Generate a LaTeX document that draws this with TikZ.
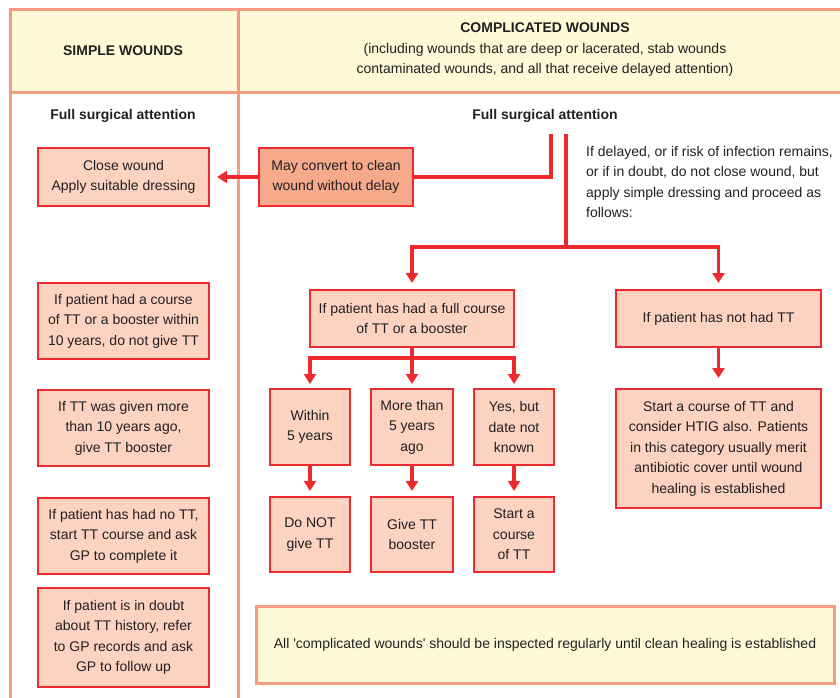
\documentclass[tikz,border=0pt]{standalone}
\usepackage{fontspec}
\setmainfont{Liberation Sans}
\usepackage{tikz}
\usetikzlibrary{arrows.meta}

\definecolor{framesalmon}{HTML}{F59B7F}
\definecolor{headfill}{HTML}{FEF9D6}
\definecolor{boxred}{HTML}{EE2A2E}
\definecolor{boxfill}{HTML}{FBD3C0}
\definecolor{convfill}{HTML}{F6A98B}
\definecolor{ink}{HTML}{231F20}

\tikzset{
  frame/.style={draw=framesalmon, line width=3pt},
  box/.style={draw=boxred, fill=boxfill, line width=2pt, align=center, inner sep=0pt, text=ink},
  conn/.style={draw=boxred, line width=3.7pt},
  arr/.style={conn, -{Triangle[width=12pt,length=10pt]}},
  label/.style={text=ink, align=center, inner sep=0pt},
}

\begin{document}
\begin{tikzpicture}[x=1pt, y=-1pt, font=\fontsize{14}{20.5}\selectfont]
\useasboundingbox (0,0) rectangle (840,698);
\draw[frame, fill=headfill] (10,10) rectangle (843,93);
\draw[frame] (10,10) -- (10,702);
\draw[frame] (238,10) -- (238,702);

\node[label, font=\fontsize{14}{20.5}\selectfont\bfseries] (simplehead) at (123,51) {SIMPLE WOUNDS};
\node[label] (complhead) at (545,50) {\textbf{COMPLICATED WOUNDS}\\(including wounds that are deep or lacerated, stab wounds\\contaminated wounds, and all that receive delayed attention)};
\node[label, font=\fontsize{14}{20.5}\selectfont\bfseries] (simplefsa) at (123,116) {Full surgical attention};
\node[label, font=\fontsize{14}{20.5}\selectfont\bfseries] (complfsa) at (545,116) {Full surgical attention};
\node[label, align=left, anchor=west] (delayed) at (586,182) {If delayed, or if risk of infection remains,\\or if in doubt, do not close wound, but\\apply simple dressing and proceed as\\follows:};

\node[box, minimum width=171, minimum height=58] (close) at (123.5,177) {Close wound\\Apply suitable dressing};
\node[box, fill=convfill, minimum width=154, minimum height=58] (convert) at (336,177) {May convert to clean\\wound without delay};

\node[box, minimum width=171, minimum height=76] (lcourse) at (123.5,321) {If patient had a course\\of TT or a booster within\\10 years, do not give TT};
\node[box, minimum width=171, minimum height=76] (lbooster) at (123.5,428) {If TT was given more\\than 10 years ago,\\give TT booster};
\node[box, minimum width=171, minimum height=76] (lnott) at (123.5,536) {If patient has had no TT,\\start TT course and ask\\GP to complete it};
\node[box, minimum width=171, minimum height=99] (ldoubt) at (123.5,637.5) {If patient is in doubt\\about TT history, refer\\to GP records and ask\\GP to follow up};

\node[box, minimum width=204, minimum height=57] (full) at (412,318.5) {If patient has had a full course\\of TT or a booster};
\node[box, minimum width=205, minimum height=57] (nothad) at (718.5,318.5) {If patient has not had TT};
\node[box, minimum width=80, minimum height=76] (within) at (310,427) {Within\\5 years};
\node[box, minimum width=82, minimum height=76] (more) at (412,427) {More than\\5 years\\ago};
\node[box, minimum width=80, minimum height=76] (yes) at (514,427) {Yes, but\\date not\\known};
\node[box, minimum width=80, minimum height=75] (donot) at (310,534.5) {Do NOT\\give TT};
\node[box, minimum width=82, minimum height=75] (give) at (412,534.5) {Give TT\\booster};
\node[box, minimum width=80, minimum height=75] (start) at (514,534.5) {Start a\\course\\of TT};
\node[box, minimum width=205, minimum height=119] (htig) at (718.5,448.5) {Start a course of TT and\\consider HTIG also. Patients\\in this category usually merit\\antibiotic cover until wound\\healing is established};
\node[box, draw=framesalmon, fill=headfill, line width=3pt, minimum width=578, minimum height=77] (note) at (545,644.5) {All \textquotesingle complicated wounds\textquotesingle{} should be inspected regularly until clean healing is established};

\coordinate (fsaconv) at (551,134);
\coordinate (fsatree) at (566,134);
\coordinate (split) at (566,247);
\coordinate (subsplit) at (412,358);
\draw[conn] (fsaconv) |- (convert.east);
\draw[arr, shorten >=7pt] (convert.west) -- (close.east);
\draw[conn] (fsatree) -- (split);
\draw[arr, shorten >=6pt] (split) -| (full.north);
\draw[arr, shorten >=6pt] (split) -| (nothad.north);
\draw[conn] (full.south) -- (subsplit);
\draw[arr, shorten >=4pt] (subsplit) -| (within.north);
\draw[arr, shorten >=4pt] (subsplit) -- (more.north);
\draw[arr, shorten >=4pt] (subsplit) -| (yes.north);
\draw[arr, shorten >=5pt] (within) -- (donot);
\draw[arr, shorten >=5pt] (more) -- (give);
\draw[arr, shorten >=5pt] (yes) -- (start);
\draw[arr, shorten >=10pt] (nothad) -- (htig);
\end{tikzpicture}
\end{document}
